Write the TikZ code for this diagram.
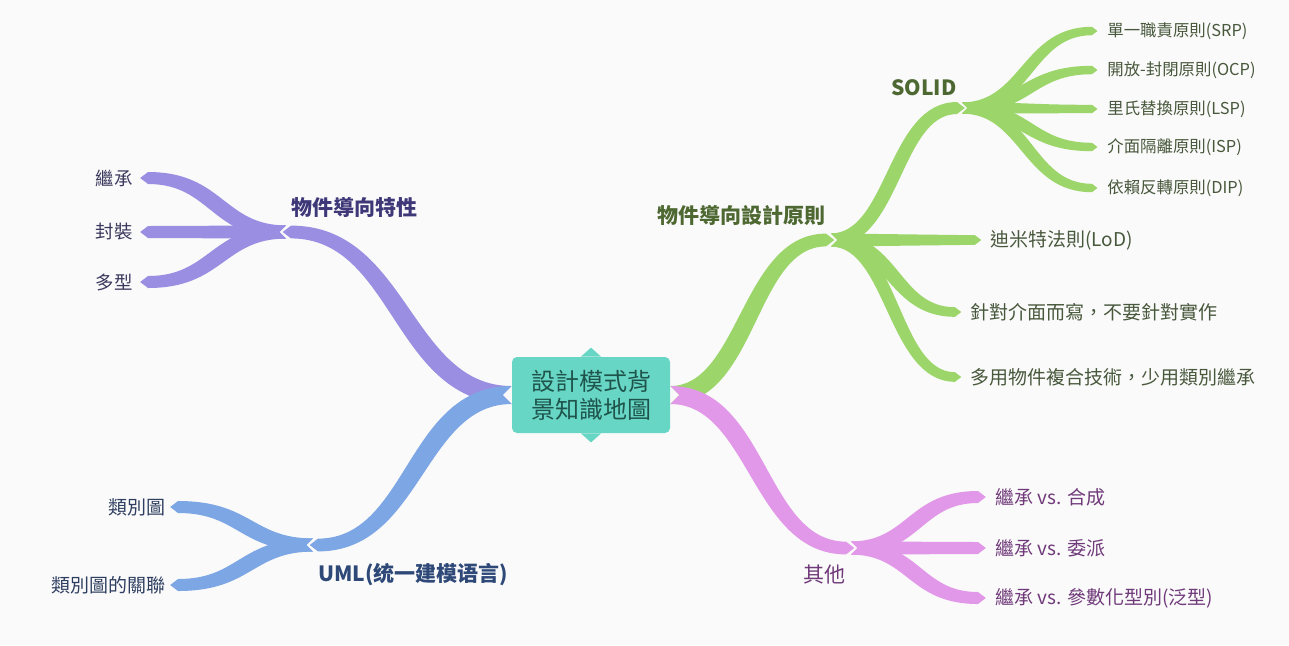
\documentclass[tikz,border=0pt]{standalone}
\usepackage{fontspec}
\setmainfont{Noto Sans CJK TC}
\usepackage{tikz}
\usetikzlibrary{calc,positioning}
\definecolor{paper}{RGB}{250,250,250}
\definecolor{hubfill}{RGB}{104,214,196}
\definecolor{hubtext}{RGB}{30,84,76}
\definecolor{grn}{RGB}{156,214,106}
\definecolor{grntext}{RGB}{78,104,50}
\definecolor{grnleaf}{RGB}{72,88,60}
\definecolor{prp}{RGB}{154,142,226}
\definecolor{prptext}{RGB}{62,56,120}
\definecolor{prpleaf}{RGB}{58,56,92}
\definecolor{blu}{RGB}{124,166,228}
\definecolor{blutext}{RGB}{46,72,120}
\definecolor{bluleaf}{RGB}{46,62,96}
\definecolor{pnk}{RGB}{226,152,232}
\definecolor{pnktext}{RGB}{112,58,122}
\newcommand\twig[5]{%
  \fill[#1] let \p1=(#2), \p2=(#3),
      \n1={(\x1+\x2)/2}, \n2={sign(\x2-\x1)}, \n3={sign(\x2-\x1)*sign(\y2-\y1)} in
    (\x1,{\y1+#4})
    .. controls ({\n1*1pt-\n3*#4},{\y1+#4}) and ({\n1*1pt-\n3*#5},{\y2+#5}) .. (\x2,{\y2+#5})
    -- ({\x2+1.3*\n2*#5},\y2) -- (\x2,{\y2-#5})
    .. controls ({\n1*1pt+\n3*#5},{\y2-#5}) and ({\n1*1pt+\n3*#4},{\y1-#4}) .. (\x1,{\y1-#4})
    -- ({\x1+\n2*#4},\y1) -- cycle;}

\begin{document}
\begin{tikzpicture}[x=0.5pt,y=-0.5pt,
    hub/.style={rounded corners=2.5pt,fill=hubfill,text=hubtext,inner sep=0pt,minimum width=79pt,minimum height=38pt,align=center,font=\fontsize{12}{14}\selectfont},
    topic/.style={inner sep=0pt,font=\fontsize{10.5}{12}\selectfont\bfseries},
    leaf/.style={inner sep=0pt,font=\fontsize{9.5}{11}\selectfont},
    solidleaf/.style={inner sep=0pt,text=grnleaf,font=\fontsize{8.2}{10}\selectfont}]
   \useasboundingbox (0,0) rectangle (1289,645);
   \fill[paper] (0,0) rectangle (1289,645);
   \node[hub] (root) at (591,395) {設計模式背\\景知識地圖};
   \fill[hubfill] ([xshift=-5pt]root.north) -- ([yshift=4.5pt]root.north) -- ([xshift=5pt]root.north) -- cycle;
   \fill[hubfill] ([xshift=-5pt]root.south) -- ([yshift=-4.5pt]root.south) -- ([xshift=5pt]root.south) -- cycle;
   \coordinate (oodp)  at (826,240); \coordinate (oodp-j)  at (831,240);
   \coordinate (solid) at (957,108); \coordinate (solid-j) at (962,108);
   \coordinate (misc)  at (846,548); \coordinate (misc-j)  at (851,548);
   \coordinate (feat)  at (291,232); \coordinate (feat-j)  at (286,232);
   \coordinate (uml)   at (318,545); \coordinate (uml-j)   at (313,545);
   \twig{grn}{root.east}{oodp}{4.5pt}{3.2pt}
   \twig{pnk}{root.east}{misc}{4.5pt}{3.2pt}
   \twig{prp}{root.west}{feat}{4.5pt}{3.2pt}
   \twig{blu}{root.west}{uml}{4.5pt}{3.2pt}
   \twig{grn}{oodp-j}{solid}{3.3pt}{3.0pt}
   \node[topic,text=grntext,above left=7pt and 0pt of oodp] (oodp-t) {物件導向設計原則};
   \node[topic,text=grntext,above left=6pt and 0pt of solid] (solid-t) {SOLID};
   \node[topic,text=prptext,above right=7pt and 0pt of feat] (feat-t) {物件導向特性};
   \node[topic,text=blutext,below right=9pt and 0pt of uml] (uml-t) {UML(统一建模语言)};
   \node[leaf,font=\fontsize{10.5}{12}\selectfont,text=pnktext,below left=8pt and 0pt of misc] (misc-t) {其他};
   \foreach \name/\yy/\txt in {srp/31/{單一職責原則(SRP)},ocp/70/{開放-封閉原則(OCP)},lsp/109/{里氏替換原則(LSP)},isp/147/{介面隔離原則(ISP)},dip/188/{依賴反轉原則(DIP)}} {
     \coordinate (\name) at (1092,\yy);
     \twig{grn}{solid-j}{\name}{2.8pt}{2.1pt}
     \node[solidleaf,right=7.5pt of \name] (\name-t) {\txt};
   }
   \foreach \name/\xx/\yy/\txt in {lod/975/240/{迪米特法則(LoD)},iface/955/312/{針對介面而寫，不要針對實作},comp/955/377/{多用物件複合技術，少用類別繼承}} {
     \coordinate (\name) at (\xx,\yy);
     \twig{grn}{oodp-j}{\name}{3.3pt}{2.4pt}
     \node[leaf,text=grnleaf,right=7.5pt of \name] (\name-t) {\txt};
   }
   \foreach \name/\yy/\txt in {vcomp/497/{繼承 vs. 合成},vdel/548/{繼承 vs. 委派},vgen/598/{繼承 vs. 參數化型別(泛型)}} {
     \coordinate (\name) at (978,\yy);
     \twig{pnk}{misc-j}{\name}{3.3pt}{3.0pt}
     \node[leaf,text=pnktext,right=8.5pt of \name] (\name-t) {\txt};
   }
   \foreach \name/\yy/\txt in {inh/178/{繼承},enc/232/{封裝},poly/282/{多型}} {
     \coordinate (\name) at (148,\yy);
     \twig{prp}{feat-j}{\name}{3.3pt}{3.0pt}
     \node[leaf,font=\fontsize{9.2}{11}\selectfont,text=prpleaf,left=7.5pt of \name] (\name-t) {\txt};
   }
   \foreach \name/\yy/\txt in {cls/507/{類別圖},assoc/585/{類別圖的關聯}} {
     \coordinate (\name) at (178,\yy);
     \twig{blu}{uml-j}{\name}{3.3pt}{3.0pt}
     \node[leaf,text=bluleaf,left=6pt of \name] (\name-t) {\txt};
   }
\end{tikzpicture}
\end{document}
